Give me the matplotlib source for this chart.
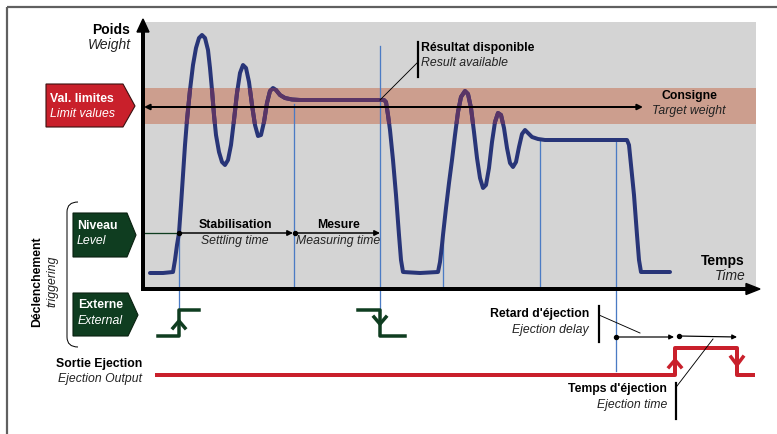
import matplotlib
matplotlib.use("Agg")
import matplotlib.pyplot as plt
from matplotlib.patches import Rectangle, Polygon, PathPatch
from matplotlib.path import Path

plt.rcParams['font.family'] = ['Liberation Sans', 'DejaVu Sans']

# ---------------- data (pixel-space schematic) ----------------
# weight signal: time (x) and weight (y, screen coords)
curve_t = [150, 163, 173, 175, 177, 179, 181, 183, 185, 187, 190, 193, 196, 199, 202, 205, 208, 210,
           212, 214, 216, 219, 222, 225, 228, 231, 234, 237, 240, 243, 246, 249, 252, 255, 258, 261,
           264, 267, 270, 273, 276, 280, 285, 292, 300, 384, 386, 388, 390, 393, 396, 399, 401, 403,
           420, 438, 440, 442, 443, 446, 449, 452, 455, 458, 461, 465, 468, 471, 474, 477, 480, 483,
           486, 489, 492, 495, 498, 501, 504, 507, 510, 513, 516, 519, 522, 525, 528, 532, 538, 545,
           627, 629, 631, 634, 637, 639, 641, 670]
curve_w = [273, 273, 272, 260, 245, 233, 205, 175, 145, 120, 90, 65, 48, 38, 35, 38, 50, 68,
           90, 115, 135, 152, 162, 165, 160, 145, 120, 93, 73, 65, 68, 82, 105, 125, 136, 135,
           122, 103, 91, 88, 90, 95, 98, 99.5, 100, 100, 102, 115, 130, 160, 195, 235, 260, 272,
           273, 272, 262, 245, 235, 208, 183, 160, 135, 112, 97, 91, 94, 108, 132, 158, 178, 188,
           185, 168, 142, 122, 113, 115, 128, 148, 163, 167, 162, 147, 134, 130, 133, 137, 139, 140,
           140, 145, 165, 195, 235, 260, 272, 272]

# external trigger signals
trig1_x = [158, 179, 179, 199]
trig1_y = [336, 336, 310, 310]
trig2_x = [358, 380, 380, 405]
trig2_y = [310, 310, 336, 336]

# ejection output signal
eject_x = [157, 675, 675, 737, 737, 753]
eject_y = [375, 375, 348, 348, 375, 375]

# blue event markers: x, y_top, y_bottom
events_x = [179, 294, 380, 443, 540, 616]
events_top = [233, 104, 46, 235, 140, 140]
events_bot = [310, 289, 310, 289, 289, 371]

# ---------------- colours ----------------
C_GRAY = '#d4d4d4'
C_BAND = '#cc9e8e'
C_CURVE = '#283578'
C_CURVE_IN = '#5a3566'
C_BLUE = '#4b7bc4'
C_GREEN = '#0f3d20'
C_RED = '#c9202b'
C_FRAME = '#606060'

fig = plt.figure(figsize=(7.77, 4.34), dpi=100)
ax = fig.add_axes([0, 0, 1, 1])
ax.set_xlim(0, 777)
ax.set_ylim(434, 0)
ax.axis('off')

PX = 0.72  # points per pixel

# frame
ax.plot([7, 777], [7, 7], color=C_FRAME, lw=2.2 * PX, solid_capstyle='butt')
ax.plot([7, 7], [7, 434], color=C_FRAME, lw=2.2 * PX, solid_capstyle='butt')

# plot area and tolerance band
ax.add_patch(Rectangle((143, 22), 613, 267, facecolor=C_GRAY, edgecolor='none', zorder=1))
ax.add_patch(Rectangle((143, 88), 613, 36, facecolor=C_BAND, edgecolor='none', zorder=2))

# blue event lines
for x, t, b in zip(events_x, events_top, events_bot):
    ax.plot([x, x], [t, b], color=C_BLUE, lw=1.3 * PX, zorder=3)

# level line
ax.plot([143, 179], [233, 233], color=C_GREEN, lw=1.3 * PX, zorder=3)

# curve
ax.plot(curve_t, curve_w, color=C_CURVE, lw=4 * PX, solid_joinstyle='round',
        solid_capstyle='round', zorder=4)
inner, = ax.plot(curve_t, curve_w, color=C_CURVE_IN, lw=4 * PX, solid_joinstyle='round',
                 solid_capstyle='round', zorder=5)
clip = Rectangle((143, 88), 613, 36, transform=ax.transData)
inner.set_clip_path(clip)

# axes lines with arrow heads
ax.plot([143, 143], [291, 30], color='k', lw=4 * PX, zorder=6, solid_capstyle='butt')
ax.add_patch(Polygon([[137, 32], [143, 19], [149, 32]], closed=True, color='k', zorder=6))
ax.plot([141, 748], [289, 289], color='k', lw=4 * PX, zorder=6, solid_capstyle='butt')
ax.add_patch(Polygon([[746, 283.5], [760, 289], [746, 294.5]], closed=True, color='k', zorder=6))

# target line
ax.annotate('', xy=(643, 107), xytext=(144, 107),
            arrowprops=dict(arrowstyle='<|-|>', lw=2 * PX, color='k', mutation_scale=8,
                            shrinkA=0, shrinkB=0), zorder=7)


def arrow(x0, y0, x1, y1, lw=1.5, ms=8):
    ax.annotate('', xy=(x1, y1), xytext=(x0, y0),
                arrowprops=dict(arrowstyle='-|>', lw=lw * PX, color='k', mutation_scale=ms,
                                shrinkA=0, shrinkB=0), zorder=7)
    ax.plot([x0], [y0], 'o', color='k', ms=4 * PX, zorder=8)


arrow(179, 233, 293, 233)
arrow(295, 233, 380, 233)
arrow(616, 337, 674, 337, lw=1.2, ms=7)
arrow(679, 336, 737, 337, lw=1.2, ms=7)

# trigger signals
ax.plot(trig1_x, trig1_y, color=C_GREEN, lw=3.5 * PX, zorder=6)
ax.plot(trig2_x, trig2_y, color=C_GREEN, lw=3.5 * PX, zorder=6)
ax.plot([173, 179, 185], [328, 321, 328], color=C_GREEN, lw=3.5 * PX, zorder=6)
ax.plot([374, 380, 386], [317, 324, 317], color=C_GREEN, lw=3.5 * PX, zorder=6)

# ejection output
ax.plot(eject_x, eject_y, color=C_RED, lw=4 * PX, zorder=6)
ax.plot([669, 675, 681], [367, 360, 367], color=C_RED, lw=3.5 * PX, zorder=6)
ax.plot([731, 737, 743], [357, 365, 357], color=C_RED, lw=3.5 * PX, zorder=6)

# annotation bars and leaders
for bx, by0, by1 in [(418, 42, 77), (599, 306, 342), (676, 383, 419)]:
    ax.plot([bx, bx], [by0, by1], color='k', lw=2.2 * PX, zorder=7)
ax.plot([418, 380], [62, 100], color='k', lw=0.9 * PX, zorder=7)
ax.plot([599, 640], [315, 333], color='k', lw=0.9 * PX, zorder=7)
ax.plot([677, 713], [386, 339], color='k', lw=0.9 * PX, zorder=7)

# label boxes
ax.add_patch(Polygon([[46, 84], [123, 84], [135, 106], [123, 127], [46, 127]], closed=True,
                     facecolor=C_RED, edgecolor='#3a1010', lw=0.8, zorder=6))
ax.add_patch(Polygon([[73, 213], [127, 213], [136, 235], [127, 257], [73, 257]], closed=True,
                     facecolor=C_GREEN, edgecolor='#0a2010', lw=0.8, zorder=6))
ax.add_patch(Polygon([[73, 293], [128, 293], [138, 315], [128, 336], [73, 336]], closed=True,
                     facecolor=C_GREEN, edgecolor='#0a2010', lw=0.8, zorder=6))

# brace
brace = Path([(78, 202), (67, 202), (67, 212), (67, 337), (67, 347), (78, 347)],
             [Path.MOVETO, Path.CURVE3, Path.CURVE3, Path.LINETO, Path.CURVE3, Path.CURVE3])
ax.add_patch(PathPatch(brace, facecolor='none', edgecolor='k', lw=1.0 * PX, zorder=6))

# texts
FS = 8.8
BIG = 10


def label(x, y, s, ha='left', bold=False, italic=False, color='k', fs=FS, rot=0):
    ax.text(x, y, s, ha=ha, va='center', fontsize=fs, color=color,
            fontweight='bold' if bold else 'normal',
            fontstyle='italic' if italic else 'normal', rotation=rot, zorder=10)


label(130, 30, 'Poids', ha='right', bold=True, fs=BIG)
label(131, 45, 'Weight', ha='right', italic=True, color='#222222', fs=BIG)
label(50, 99, 'Val. limites', bold=True, color='white')
label(50, 114, 'Limit values', italic=True, color='white')
label(77, 226, 'Niveau', bold=True, color='white')
label(77, 241, 'Level', italic=True, color='white')
label(78, 305, 'Externe', bold=True, color='white')
label(78, 321, 'External', italic=True, color='white')
label(37, 282, 'Déclenchement', ha='center', bold=True, rot=90)
label(52, 281, 'triggering', ha='center', italic=True, color='#222222', rot=90)
label(142, 364, 'Sortie Ejection', ha='right', bold=True)
label(142, 379, 'Ejection Output', ha='right', italic=True, color='#222222')
label(421, 48, 'Résultat disponible', bold=True)
label(421, 63, 'Result available', italic=True, color='#222222')
label(689, 96, 'Consigne', ha='center', bold=True)
label(689, 111, 'Target weight', ha='center', italic=True, color='#222222')
label(235, 225, 'Stabilisation', ha='center', bold=True)
label(235, 241, 'Settling time', ha='center', italic=True, color='#222222')
label(338, 225, 'Mesure', ha='center', bold=True)
label(338, 241, 'Measuring time', ha='center', italic=True, color='#222222')
label(745, 261, 'Temps', ha='right', bold=True, fs=BIG)
label(745, 276, 'Time', ha='right', italic=True, color='#222222', fs=BIG)
label(589, 314, "Retard d'éjection", ha='right', bold=True)
label(589, 330, 'Ejection delay', ha='right', italic=True, color='#222222')
label(667, 389, "Temps d'éjection", ha='right', bold=True)
label(667, 405, 'Ejection time', ha='right', italic=True, color='#222222')

fig.savefig('out.png', dpi=100)
